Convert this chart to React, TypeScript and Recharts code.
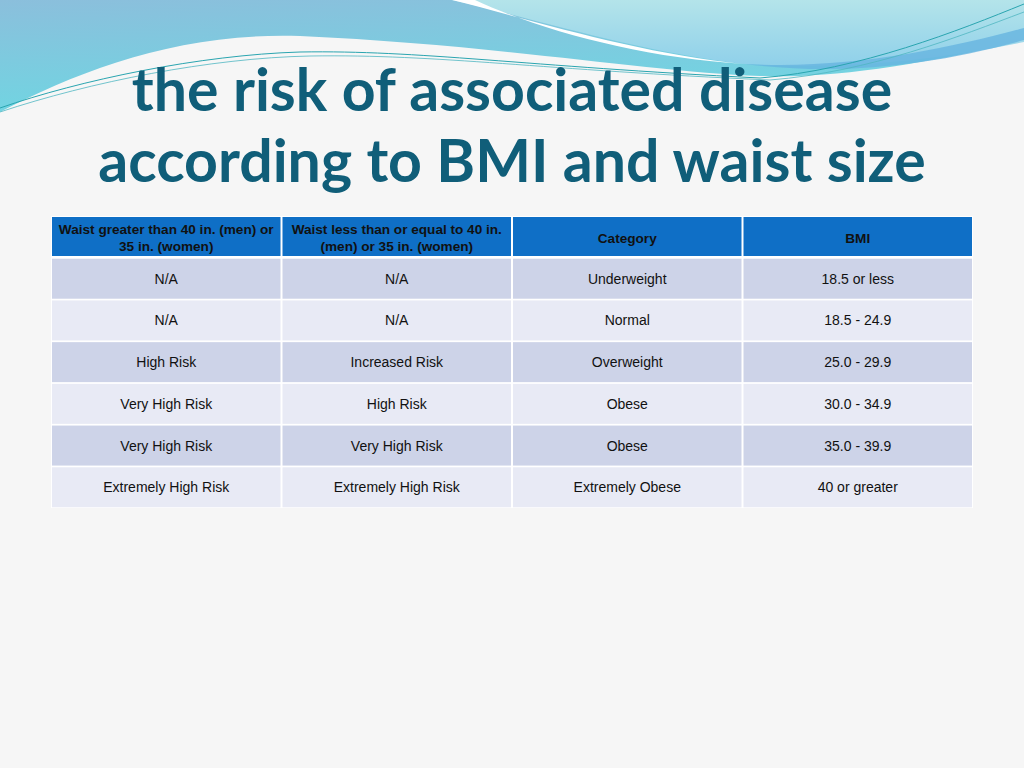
import React from 'react';
import { BarChart, Bar, XAxis, YAxis } from 'recharts';

const headers = [
	['Waist greater than 40 in. (men) or', '35 in. (women)'],
	['Waist less than or equal to 40 in.', '(men) or 35 in. (women)'],
	['Category'],
	['BMI'],
];
const waistOver = ['N/A', 'N/A', 'High Risk', 'Very High Risk', 'Very High Risk', 'Extremely High Risk'];
const waistUnder = ['N/A', 'N/A', 'Increased Risk', 'High Risk', 'Very High Risk', 'Extremely High Risk'];
const categories = ['Underweight', 'Normal', 'Overweight', 'Obese', 'Obese', 'Extremely Obese'];
const bmiRanges = ['18.5 or less', '18.5 - 24.9', '25.0 - 29.9', '30.0 - 34.9', '35.0 - 39.9', '40 or greater'];

// each row is a stack of four equal columns
const tableRows = [
	{ row: 'header', cells: headers, span0: 1, span1: 1, span2: 1, span3: 1 },
	...bmiRanges.map((bmi, i) => ({
		row: `r${i}`,
		cells: [[waistOver[i]], [waistUnder[i]], [categories[i]], [bmi]],
		span0: 1,
		span1: 1,
		span2: 1,
		span3: 1,
	})),
];

const FONT = '"Liberation Sans", Arial, sans-serif';

const makeCell = (col: number) => (props: any) => {
	const { x, y, width, height, payload, index } = props;
	const isHeader = index === 0;
	const lines: string[] = payload.cells[col];
	const fill = isHeader ? '#0f6fc6' : index % 2 === 1 ? '#cdd3e8' : '#e8eaf5';
	const cx = x + width / 2;
	const cy = y + height / 2 + (isHeader ? 1 : 0);
	const lh = 17;
	return (
		<g>
			<rect x={x + 1} y={y + 1} width={width - 2} height={height - (isHeader ? 3 : 2)} fill={fill} />
			{lines.map((t, k) => (
				<text
					key={k}
					x={cx}
					y={cy + (k - (lines.length - 1) / 2) * lh}
					textAnchor="middle"
					dominantBaseline="central"
					fontFamily={FONT}
					fontSize={isHeader ? 13.6 : 14}
					fontWeight={isHeader ? 'bold' : 'normal'}
					fill="#111"
				>
					{t}
				</text>
			))}
		</g>
	);
};

const Waves = () => (
	<svg width={1024} height={140} style={{ position: 'absolute', left: 0, top: 0 }}>
		<defs>
			<linearGradient id="blueL" x1="0" y1="0" x2="0.3" y2="1">
				<stop offset="0%" stopColor="#8bbfdc" />
				<stop offset="100%" stopColor="#6fd6e2" />
			</linearGradient>
			<linearGradient id="paleR" x1="0" y1="0" x2="0" y2="1">
				<stop offset="0%" stopColor="#b4e4ea" />
				<stop offset="100%" stopColor="#8fd0ea" />
			</linearGradient>
		</defs>
		<path d="M0,0 L1024,0 L1024,40 C900,70 820,78 760,76 C650,72 500,45 300,36 C180,32 80,70 0,112 Z" fill="url(#blueL)" />
		<path d="M452,0 L1024,0 L1024,42 C930,62 830,70 745,64 C640,52 540,20 452,0 Z" fill="url(#paleR)" />
		<path d="M452,0 C540,22 640,54 745,64 C640,58 540,30 475,0 Z" fill="#ffffff" />
		<path d="M745,64 C850,70 950,48 1024,28 L1024,40 C930,66 840,76 745,64 Z" fill="#66b4e0" opacity={0.8} />
		<path d="M0,108 C80,80 200,55 300,52 C420,50 520,66 760,78 C860,70 960,30 1024,4" fill="none" stroke="#2aa5b0" strokeWidth={1} />
		<path d="M0,112 C90,82 210,58 310,56 C440,54 540,70 770,80 C870,72 960,36 1024,12" fill="none" stroke="#4fb6c2" strokeWidth={0.8} />
	</svg>
);

export default function App() {
	return (
		<div style={{ position: 'absolute', left: 0, top: 0, width: 1024, height: 768, background: '#f6f6f6', overflow: 'hidden' }}>
			<Waves />
			<div
				style={{
					position: 'absolute',
					left: 0,
					top: 53,
					width: 1024,
					textAlign: 'center',
					fontFamily: 'Lato, "Open Sans", sans-serif',
					fontWeight: 'bold',
					fontSize: 59,
					lineHeight: '71px',
					color: '#105e79',
				}}
			>
				the risk of associated disease
				<br />
				according to BMI and waist size
			</div>
			<div style={{ position: 'absolute', left: 51, top: 216, background: '#ffffff' }}>
				<BarChart
					width={922}
					height={292}
					data={tableRows}
					layout="vertical"
					barCategoryGap={0}
					margin={{ top: 0, right: 0, bottom: 0, left: 0 }}
				>
					<XAxis type="number" hide domain={[0, 4]} />
					<YAxis type="category" dataKey="row" hide />
					{[0, 1, 2, 3].map((c) => (
						<Bar key={c} dataKey={`span${c}`} stackId="t" shape={makeCell(c)} isAnimationActive={false} />
					))}
				</BarChart>
			</div>
		</div>
	);
}
